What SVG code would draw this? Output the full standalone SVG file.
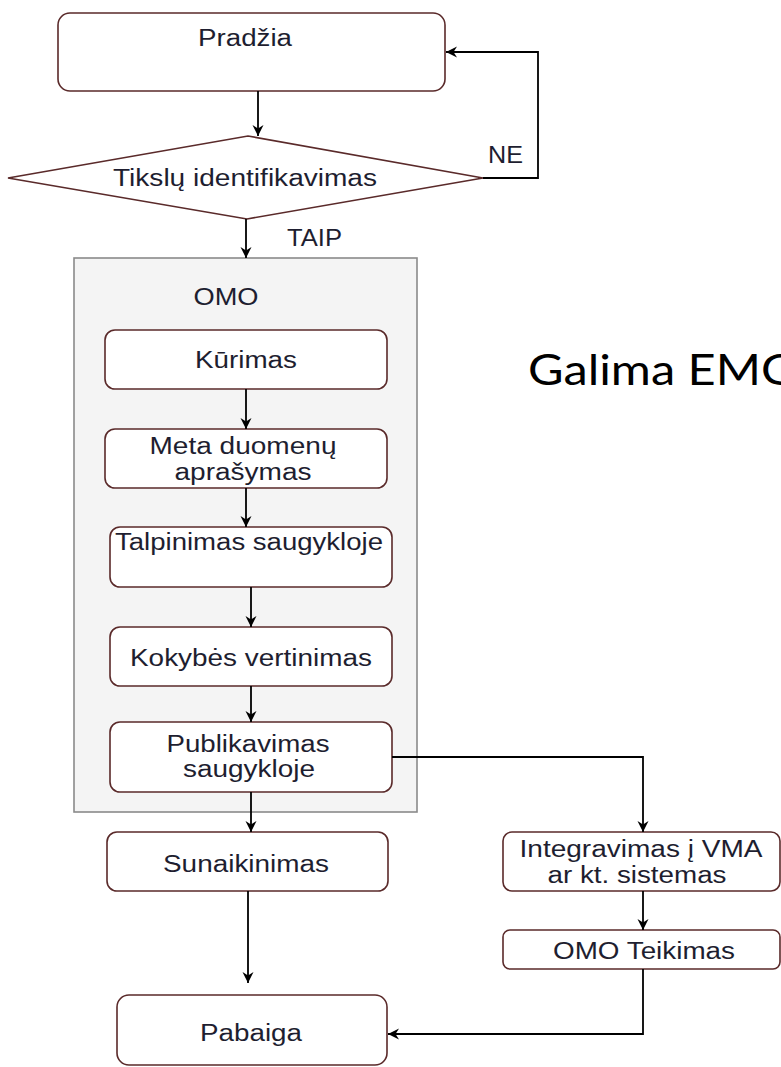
<svg xmlns="http://www.w3.org/2000/svg" width="781" height="1067" viewBox="0 0 781 1067">
<defs>
<marker id="arr" viewBox="0 0 12 12" markerWidth="12" markerHeight="12" refX="11" refY="6" orient="auto" markerUnits="userSpaceOnUse">
<path d="M0,0.5 L11,6 L0,11.5 L3.5,6 z" fill="#000"/>
</marker>
<style>
.box{fill:#fff;stroke:#5a2a2a;stroke-width:1.6}
.cont{fill:#f4f4f4;stroke:#8a8a8a;stroke-width:1.6}
.t{font-family:"Liberation Sans",Arial,sans-serif;font-size:23.5px;fill:#1e1e30;text-anchor:middle}
.tl{font-family:"Liberation Sans",Arial,sans-serif;font-size:23.5px;fill:#1e1e30}
.c{fill:none;stroke:#000;stroke-width:1.8;marker-end:url(#arr)}
.big{font-family:Lato,"Open Sans",sans-serif;font-size:42px;fill:#000}
</style>
</defs>
<rect width="781" height="1067" fill="#fff"/>
<g id="container-omo">
<rect class="cont" x="74" y="258" width="343" height="554"/>
<text class="t" x="226" y="305" textLength="65" lengthAdjust="spacingAndGlyphs">OMO</text>
</g>
<g id="node-pradzia">
<rect class="box" x="58" y="13" width="387" height="78" rx="12"/>
<text class="t" x="245" y="46" textLength="94" lengthAdjust="spacingAndGlyphs">Pradžia</text>
</g>
<g id="node-tikslu">
<polygon class="box" points="8,178 248,136 483,178 247,219"/>
<text class="t" x="245" y="186" textLength="264" lengthAdjust="spacingAndGlyphs">Tikslų identifikavimas</text>
</g>
<g id="node-kurimas">
<rect class="box" x="105" y="330" width="282" height="59" rx="10"/>
<text class="t" x="246" y="368" textLength="102" lengthAdjust="spacingAndGlyphs">Kūrimas</text>
</g>
<g id="node-meta">
<rect class="box" x="105" y="429" width="282" height="59" rx="10"/>
<text class="t" x="243" y="454" textLength="187" lengthAdjust="spacingAndGlyphs">Meta duomenų</text>
<text class="t" x="243" y="480" textLength="137" lengthAdjust="spacingAndGlyphs">aprašymas</text>
</g>
<g id="node-talpinimas">
<rect class="box" x="110" y="527" width="282" height="60" rx="10"/>
<text class="t" x="249" y="550" textLength="268" lengthAdjust="spacingAndGlyphs">Talpinimas saugykloje</text>
</g>
<g id="node-kokybes">
<rect class="box" x="110" y="627" width="282" height="59" rx="10"/>
<text class="t" x="251" y="666" textLength="242" lengthAdjust="spacingAndGlyphs">Kokybės vertinimas</text>
</g>
<g id="node-publikavimas">
<rect class="box" x="110" y="722" width="282" height="70" rx="10"/>
<text class="t" x="248" y="752" textLength="163" lengthAdjust="spacingAndGlyphs">Publikavimas</text>
<text class="t" x="249" y="777" textLength="132" lengthAdjust="spacingAndGlyphs">saugykloje</text>
</g>
<g id="node-sunaikinimas">
<rect class="box" x="107" y="832" width="281" height="59" rx="10"/>
<text class="t" x="246" y="872" textLength="166" lengthAdjust="spacingAndGlyphs">Sunaikinimas</text>
</g>
<g id="node-pabaiga">
<rect class="box" x="117" y="995" width="270" height="70" rx="12"/>
<text class="t" x="251" y="1041" textLength="102" lengthAdjust="spacingAndGlyphs">Pabaiga</text>
</g>
<g id="node-integravimas">
<rect class="box" x="503" y="832" width="277" height="59" rx="9"/>
<text class="t" x="641" y="857" textLength="243" lengthAdjust="spacingAndGlyphs">Integravimas į VMA</text>
<text class="t" x="637" y="883" textLength="179" lengthAdjust="spacingAndGlyphs">ar kt. sistemas</text>
</g>
<g id="node-teikimas">
<rect class="box" x="503" y="930" width="277" height="39" rx="7"/>
<text class="t" x="644" y="959" textLength="182" lengthAdjust="spacingAndGlyphs">OMO Teikimas</text>
</g>
<g id="connectors">
<path class="c" d="M258,91 V136"/>
<path class="c" d="M483,178 H538 V52 H446"/>
<path class="c" d="M246,219 V258"/>
<path class="c" d="M246,389 V429"/>
<path class="c" d="M246,488 V527"/>
<path class="c" d="M251,587 V627"/>
<path class="c" d="M251,686 V722"/>
<path class="c" d="M251,792 V832"/>
<path class="c" d="M392,757 H643 V832"/>
<path class="c" d="M643,891 V930"/>
<path class="c" d="M248,891 V983"/>
<path class="c" d="M643,969 V1034 H388"/>
</g>
<g id="labels">
<text class="tl" x="488" y="163" textLength="35" lengthAdjust="spacingAndGlyphs">NE</text>
<text class="tl" x="287" y="246" textLength="55" lengthAdjust="spacingAndGlyphs">TAIP</text>
<text class="big" x="528" y="385" textLength="272" lengthAdjust="spacingAndGlyphs">Galima EMO</text>
</g>
</svg>
